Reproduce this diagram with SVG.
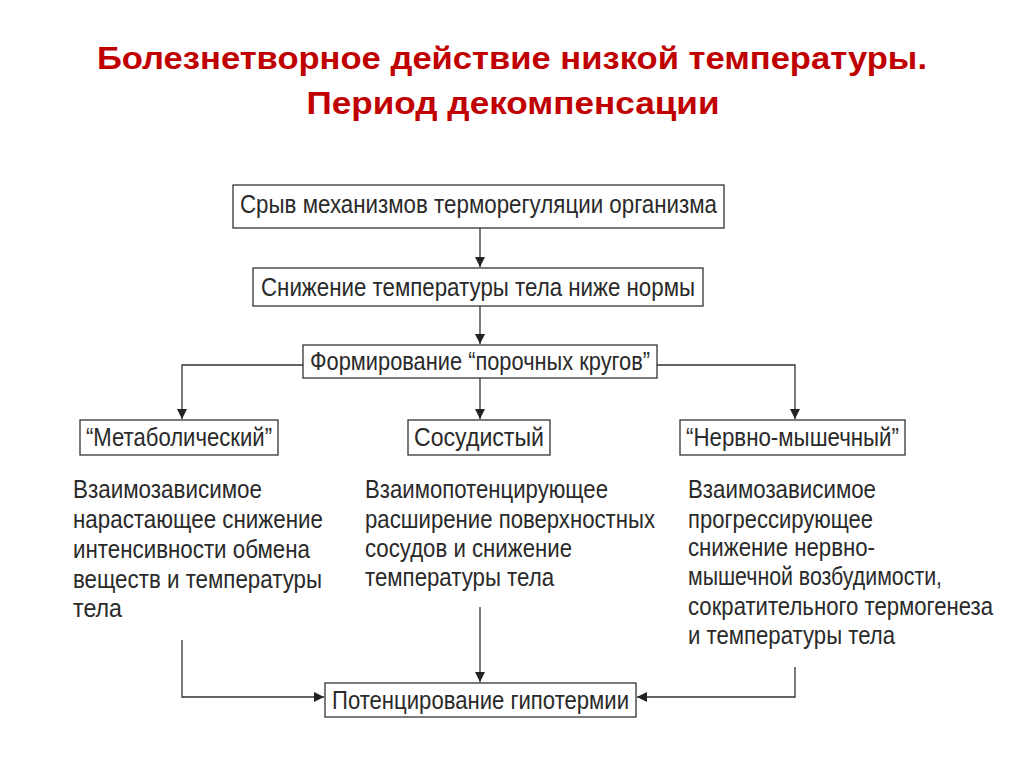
<svg xmlns="http://www.w3.org/2000/svg" width="1024" height="767" viewBox="0 0 1024 767">
<style>
.title{font-family:"Liberation Sans",Arial,sans-serif;font-weight:bold;font-size:32px;fill:#c00000;text-anchor:middle}
.box{fill:#fff;stroke:#333;stroke-width:1.3}
.bt{font-family:"Liberation Sans",Arial,sans-serif;font-size:25px;fill:#2a2a2a;text-anchor:middle}
.pt{font-family:"Liberation Sans",Arial,sans-serif;font-size:25px;fill:#2a2a2a}
.ln{fill:none;stroke:#333;stroke-width:1.3}
</style>
<defs>
<marker id="ah" viewBox="0 0 10 10" refX="10" refY="5" markerWidth="10" markerHeight="10" markerUnits="userSpaceOnUse" orient="auto">
<path d="M0,0 L10,5 L0,10 Z" fill="#222"/>
</marker>
</defs>
<rect width="1024" height="767" fill="#fff"/>
<g id="title">
<text class="title" x="512" y="69" textLength="830" lengthAdjust="spacingAndGlyphs">Болезнетворное действие низкой температуры.</text>
<text class="title" x="513" y="114" textLength="413" lengthAdjust="spacingAndGlyphs">Период декомпенсации</text>
</g>
<g id="connectors">
<path class="ln" d="M480,228 V267" marker-end="url(#ah)"/>
<path class="ln" d="M480,306 V344" marker-end="url(#ah)"/>
<path class="ln" d="M303,365 H182 V419" marker-end="url(#ah)"/>
<path class="ln" d="M657,365 H795 V419" marker-end="url(#ah)"/>
<path class="ln" d="M480,378 V419" marker-end="url(#ah)"/>
<path class="ln" d="M182,640 V697 H324" marker-end="url(#ah)"/>
<path class="ln" d="M480,607 V682" marker-end="url(#ah)"/>
<path class="ln" d="M795,667 V697 H637" marker-end="url(#ah)"/>
</g>
<g id="n1">
<rect class="box" x="233" y="185" width="491" height="43"/>
<text class="bt" x="478.5" y="213" textLength="477" lengthAdjust="spacingAndGlyphs">Срыв механизмов терморегуляции организма</text>
</g>
<g id="n2">
<rect class="box" x="253" y="268" width="450" height="38"/>
<text class="bt" x="478" y="296" textLength="434" lengthAdjust="spacingAndGlyphs">Снижение температуры тела ниже нормы</text>
</g>
<g id="n3">
<rect class="box" x="303" y="345" width="354" height="33"/>
<text class="bt" x="480" y="370" textLength="340" lengthAdjust="spacingAndGlyphs">Формирование “порочных кругов”</text>
</g>
<g id="n4">
<rect class="box" x="80" y="420" width="198" height="35"/>
<text class="bt" x="179" y="446" textLength="186" lengthAdjust="spacingAndGlyphs">“Метаболический”</text>
</g>
<g id="n5">
<rect class="box" x="408" y="420" width="142" height="35"/>
<text class="bt" x="479" y="446" textLength="130" lengthAdjust="spacingAndGlyphs">Сосудистый</text>
</g>
<g id="n6">
<rect class="box" x="680" y="420" width="225" height="35"/>
<text class="bt" x="792.5" y="446" textLength="213" lengthAdjust="spacingAndGlyphs">“Нервно-мышечный”</text>
</g>
<g id="d1">
<text class="pt" x="73" y="498" textLength="189" lengthAdjust="spacingAndGlyphs">Взаимозависимое</text>
<text class="pt" x="73" y="528" textLength="250" lengthAdjust="spacingAndGlyphs">нарастающее снижение</text>
<text class="pt" x="73" y="558" textLength="237" lengthAdjust="spacingAndGlyphs">интенсивности обмена</text>
<text class="pt" x="73" y="588" textLength="249" lengthAdjust="spacingAndGlyphs">веществ и температуры</text>
<text class="pt" x="73" y="617" textLength="49" lengthAdjust="spacingAndGlyphs">тела</text>
</g>
<g id="d2">
<text class="pt" x="365" y="498" textLength="243" lengthAdjust="spacingAndGlyphs">Взаимопотенцирующее</text>
<text class="pt" x="365" y="528" textLength="290" lengthAdjust="spacingAndGlyphs">расширение поверхностных</text>
<text class="pt" x="365" y="557" textLength="207" lengthAdjust="spacingAndGlyphs">сосудов и снижение</text>
<text class="pt" x="365" y="586" textLength="189" lengthAdjust="spacingAndGlyphs">температуры тела</text>
</g>
<g id="d3">
<text class="pt" x="688" y="498" textLength="188" lengthAdjust="spacingAndGlyphs">Взаимозависимое</text>
<text class="pt" x="688" y="528" textLength="185" lengthAdjust="spacingAndGlyphs">прогрессирующее</text>
<text class="pt" x="688" y="556" textLength="187" lengthAdjust="spacingAndGlyphs">снижение нервно-</text>
<text class="pt" x="688" y="585" textLength="254" lengthAdjust="spacingAndGlyphs">мышечной возбудимости,</text>
<text class="pt" x="688" y="615" textLength="305" lengthAdjust="spacingAndGlyphs">сократительного термогенеза</text>
<text class="pt" x="688" y="644" textLength="207" lengthAdjust="spacingAndGlyphs">и температуры тела</text>
</g>
<g id="n7">
<rect class="box" x="325" y="683" width="311" height="34"/>
<text class="bt" x="480.5" y="709" textLength="297" lengthAdjust="spacingAndGlyphs">Потенцирование гипотермии</text>
</g>
</svg>
